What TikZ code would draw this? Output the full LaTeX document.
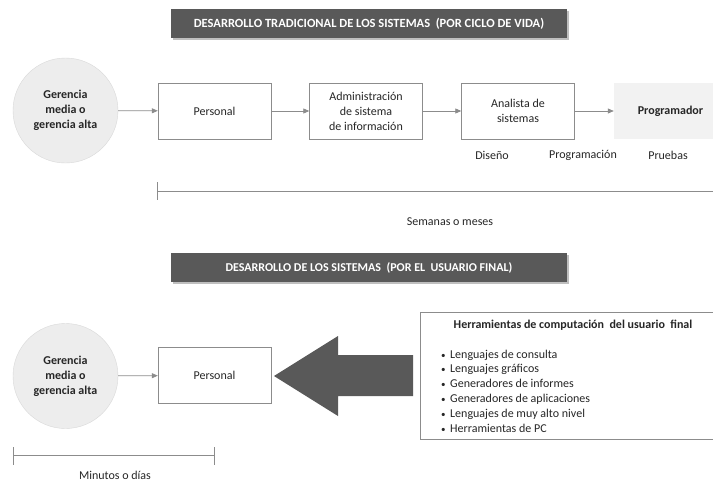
\documentclass[tikz,border=0pt]{standalone}
\usepackage{fontspec}
\setmainfont{Carlito}
\usetikzlibrary{arrows.meta}
\definecolor{barfill}{HTML}{595959}
\definecolor{barshade}{HTML}{BFBFBF}
\definecolor{circfill}{HTML}{EDEDED}
\definecolor{circline}{HTML}{D9D9D9}
\definecolor{progfill}{HTML}{F2F2F2}
\definecolor{linegray}{HTML}{8C8C8C}
\definecolor{txt}{HTML}{262626}
\newcommand{\tbullet}{\makebox[9pt][l]{\fontsize{9}{9}\selectfont•}}
\begin{document}
\begin{tikzpicture}[x=1pt,y=-1pt,
  every node/.style={text=txt},
  font=\fontsize{12}{15}\selectfont,
  titlebar/.style={fill=barfill, text=white, font=\bfseries\fontsize{12}{14}\selectfont,
    minimum width=396pt, minimum height=29pt, inner sep=0pt},
  barshadow/.style={fill=barshade},
  mgr/.style={circle, fill=circfill, draw=circline, minimum size=105pt, inner sep=0pt,
    align=center, font=\bfseries\fontsize{12}{15}\selectfont},
  stagebox/.style={draw=linegray, fill=white, minimum width=113pt, minimum height=56pt,
    inner sep=0pt, align=center},
  progbox/.style={fill=progfill, minimum width=113pt, minimum height=56pt, inner sep=0pt,
    font=\bfseries\fontsize{12}{15}\selectfont},
  flow/.style={draw=linegray, line width=0.8pt, -{Triangle[length=6pt,width=5pt]}},
  spanline/.style={draw=linegray, line width=0.8pt},
  bigarrow/.style={fill=barfill},
  toolbox/.style={draw=linegray, line width=0.8pt, fill=white, minimum width=300pt,
    minimum height=127pt, inner sep=0pt},
  lbl/.style={inner sep=0pt}
]
\clip (0,0) rectangle (713,482);
\fill[white] (0,0) rectangle (713,482);

% ---- traditional life-cycle development ----
\fill[barshadow] (172.5,10.5) rectangle (568.5,39.5);
\node[titlebar, font=\bfseries\fontsize{12.5}{14}\selectfont] (t1) at (369,23.5)
  {DESARROLLO TRADICIONAL DE LOS SISTEMAS~~(POR CICLO DE VIDA)};

\node[mgr] (g1) at (65.5,110.5) {Gerencia\\media o\\gerencia alta};
\node[stagebox] (p1) at (214.5,111) {Personal};
\node[stagebox] (a1) at (366,111) {Administración\\de sistema\\de información};
\node[stagebox] (s1) at (518,111) {Analista de\\sistemas};
\node[progbox] (r1) at (670.5,111) {Programador};

\draw[flow] (g1) -- (p1);
\draw[flow] (p1) -- (a1);
\draw[flow] (a1) -- (s1);
\draw[flow] (s1) -- (r1);

\node[lbl] (d1) at (492,155) {Diseño};
\node[lbl] (d2) at (583,155) {Programación};
\node[lbl] (d3) at (668,155) {Pruebas};

\coordinate (w0) at (157,191);
\coordinate (w1) at (713,191);
\draw[spanline] (w0) -- (w1);
\draw[spanline] (157,182) -- (157,200);
\node[lbl] (weeks) at (450,222) {Semanas o meses};

% ---- end-user development ----
\fill[barshadow] (172.5,254.5) rectangle (568.5,283.5);
\node[titlebar] (t2) at (369,267.5) {DESARROLLO DE LOS SISTEMAS~~(POR EL~~USUARIO FINAL)};

\node[mgr] (g2) at (65.5,376) {Gerencia\\media o\\gerencia alta};
\node[stagebox] (p2) at (214.5,375.5) {Personal};
\draw[flow] (g2) -- (p2);

\node[toolbox, anchor=north west] (tools) at (420,312) {};
\node[font=\bfseries\fontsize{12}{14}\selectfont, inner sep=0pt] (toolstitle) at (573,325)
  {Herramientas de computación~~del usuario~~final};
\node[anchor=north west, align=left, inner sep=0pt, font=\fontsize{12}{14.8}\selectfont] (toollist) at (441,349.5)
  {\tbullet Lenguajes de consulta\\
   \tbullet Lenguajes gráficos\\
   \tbullet Generadores de informes\\
   \tbullet Generadores de aplicaciones\\
   \tbullet Lenguajes de muy alto nivel\\
   \tbullet Herramientas de PC};

% wide arrow from the toolbox towards the staff box
\fill[bigarrow] (413,355) -- (338,355) -- (338,336) -- (274,376) -- (338,416) -- (338,396) -- (413,396) -- cycle;

\coordinate (m0) at (13,455);
\coordinate (m1) at (214,455);
\draw[spanline] (m0) -- (m1);
\draw[spanline] (13,447) -- (13,465);
\draw[spanline] (214,447) -- (214,465);
\node[lbl] (minutes) at (115,475.5) {Minutos o días};
\end{tikzpicture}
\end{document}
